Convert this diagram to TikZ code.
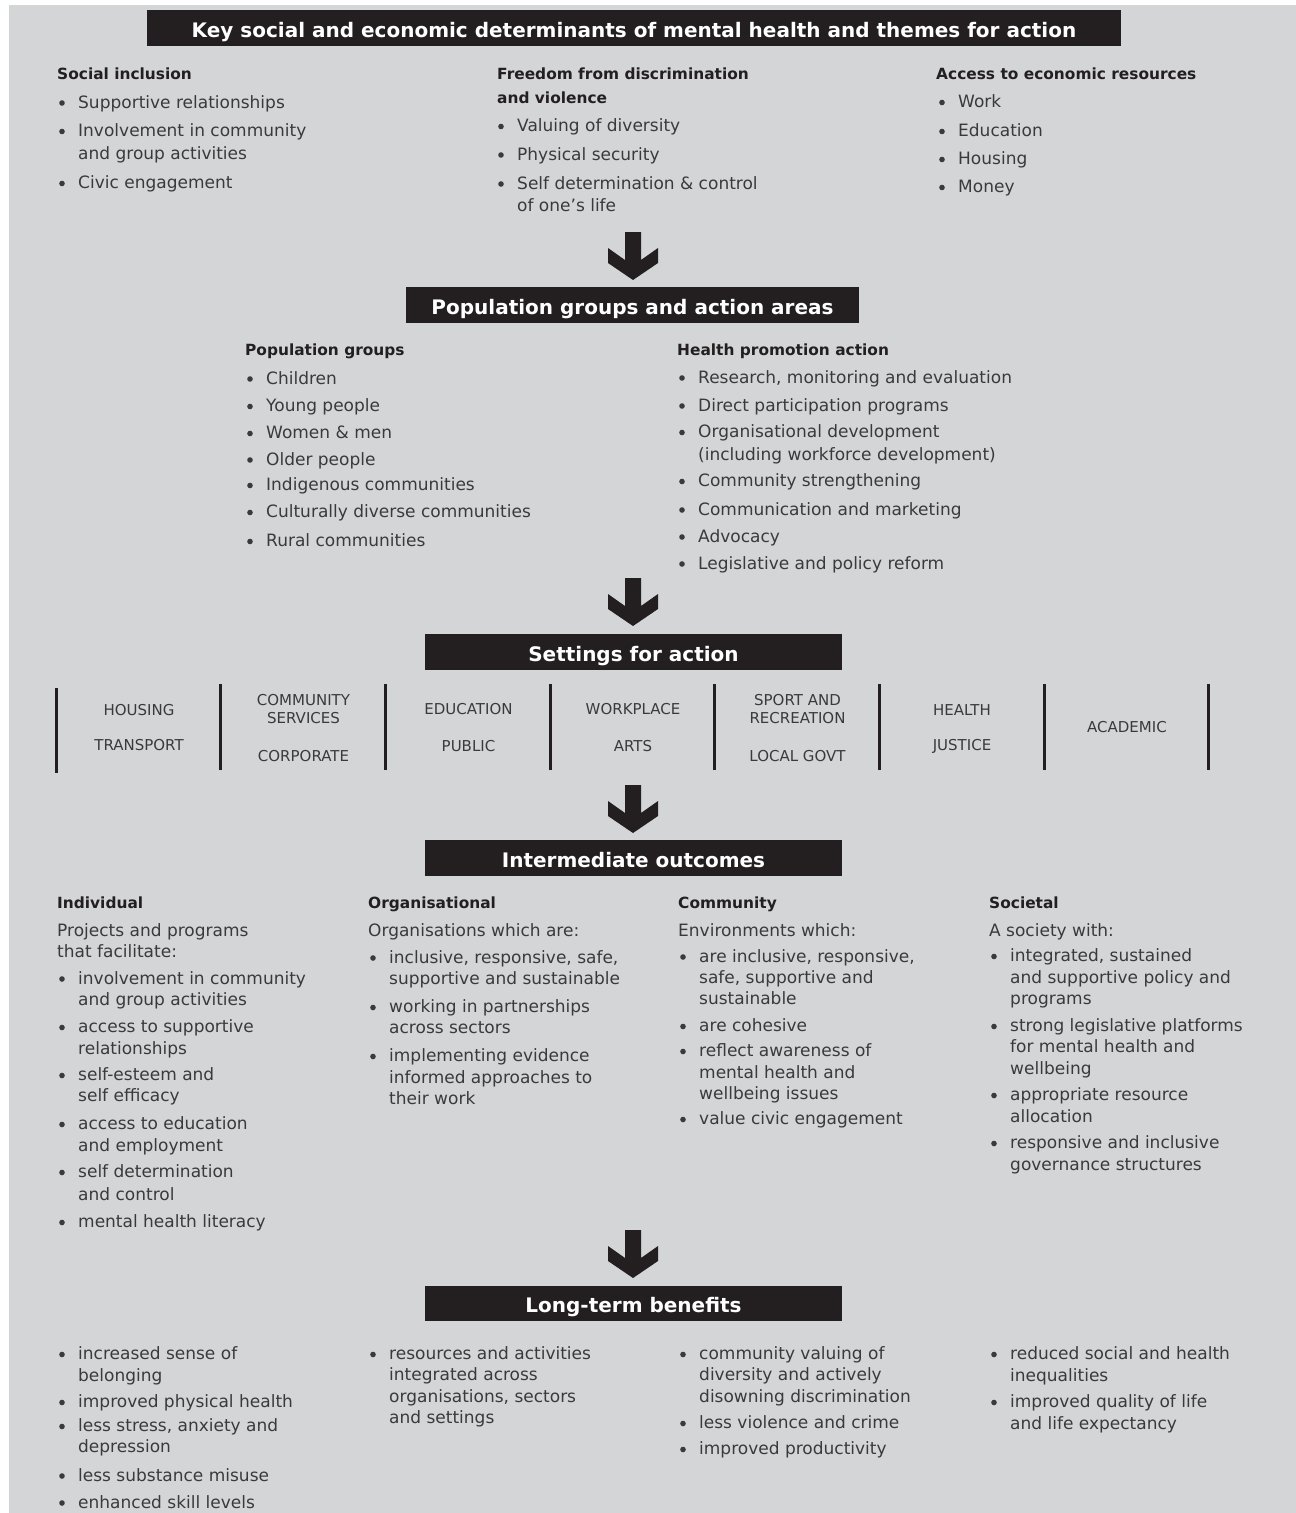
\documentclass[tikz,border=0pt]{standalone}
\usepackage{fontspec}
\setmainfont{DejaVu Sans}
\definecolor{bg}{HTML}{D4D5D7}
\definecolor{ink}{HTML}{231F20}
\definecolor{txt}{HTML}{3A3A3C}
\newcount\lc
\newcommand\Ln[3]{\global\advance\lc by 1\relax\node[bodytxt] (l\the\lc) at (#1,#2) {#3};}
\newcommand\Hd[3]{\global\advance\lc by 1\relax\node[headtxt] (l\the\lc) at (#1,#2) {#3};}
\newcommand\St[3]{\global\advance\lc by 1\relax\node[settxt] (l\the\lc) at (#1,#2) {#3};}
\newcommand\Bl[3]{\Ln{#1}{#2}{#3}\fill[txt] (#1-16,#2-5) circle[radius=2.8pt];}
\newcommand\DArrow[2]{\fill[ink] (#1-8,#2) -- (#1+8,#2) -- (#1+8,#2+28) -- (#1+25,#2+16) -- (#1+25,#2+31) -- (#1,#2+48) -- (#1-25,#2+31) -- (#1-25,#2+16) -- (#1-8,#2+28) -- cycle;}
\tikzset{
  bodytxt/.style={anchor=base west, inner sep=0pt, text=txt, font=\fontsize{17}{20}\selectfont},
  headtxt/.style={anchor=base west, inner sep=0pt, text=ink, font=\fontsize{15.4}{20}\selectfont\bfseries},
  settxt/.style={anchor=base, inner sep=0pt, text=txt, font=\fontsize{15}{18}\selectfont},
  titlebox/.style={fill=ink, text=white, font=\fontsize{20}{24}\selectfont\bfseries, inner sep=0pt, text height=21pt, text depth=3pt},
  bar/.style={draw=ink, line width=3pt}
}
\begin{document}
\begin{tikzpicture}[x=1pt,y=-1pt]
\useasboundingbox (0,0) rectangle (1296,1513);
\fill[white] (0,0) rectangle (1296,1513);
\fill[bg] (9,5) rectangle (1296,1513);

% title boxes
\node[titlebox, minimum width=974pt, minimum height=36pt] (h1) at (634,28) {Key social and economic determinants of mental health and themes for action};
\node[titlebox, minimum width=453pt, minimum height=36pt] (h2) at (632.5,305) {Population groups and action areas};
\node[titlebox, minimum width=417pt, minimum height=36pt] (h3) at (633.5,652) {Settings for action};
\node[titlebox, minimum width=417pt, minimum height=36pt] (h4) at (633.5,858) {Intermediate outcomes};
\node[titlebox, minimum width=417pt, minimum height=35pt] (h5) at (633.5,1303.5) {Long-term benefits};

% arrows
\DArrow{633}{232}
\DArrow{633}{578}
\DArrow{633}{785}
\DArrow{633}{1230}

% top section
\Hd{57}{79}{Social inclusion}
\Bl{78}{108}{Supportive relationships}
\Bl{78}{136.5}{Involvement in community}
\Ln{78}{159}{and group activities}
\Bl{78}{188.5}{Civic engagement}

\Hd{497}{79}{Freedom from discrimination}
\Hd{497}{103}{and violence}
\Bl{517}{131.5}{Valuing of diversity}
\Bl{517}{160}{Physical security}
\Bl{517}{189}{Self determination \& control}
\Ln{517}{211}{of one’s life}

\Hd{936}{79}{Access to economic resources}
\Bl{958}{107.5}{Work}
\Bl{958}{136.5}{Education}
\Bl{958}{164.5}{Housing}
\Bl{958}{192.5}{Money}

% population section
\Hd{245}{355.5}{Population groups}
\Bl{266}{384}{Children}
\Bl{266}{411.5}{Young people}
\Bl{266}{438.5}{Women \& men}
\Bl{266}{465}{Older people}
\Bl{266}{490.5}{Indigenous communities}
\Bl{266}{517.5}{Culturally diverse communities}
\Bl{266}{546.5}{Rural communities}

\Hd{677}{355.5}{Health promotion action}
\Bl{698}{383}{Research, monitoring and evaluation}
\Bl{698}{411}{Direct participation programs}
\Bl{698}{437.5}{Organisational development}
\Ln{698}{460}{(including workforce development)}
\Bl{698}{486.5}{Community strengthening}
\Bl{698}{515}{Communication and marketing}
\Bl{698}{542}{Advocacy}
\Bl{698}{569}{Legislative and policy reform}

% settings
\draw[bar] (56,688) -- (56,773);
\draw[bar] (220,684) -- (220,770);
\draw[bar] (385,684) -- (385,770);
\draw[bar] (550,684) -- (550,770);
\draw[bar] (714,684) -- (714,770);
\draw[bar] (879,684) -- (879,770);
\draw[bar] (1044,684) -- (1044,770);
\draw[bar] (1208,684) -- (1208,770);
\St{139}{715}{HOUSING}
\St{139}{750}{TRANSPORT}
\St{303.5}{705}{COMMUNITY}
\St{303.5}{723}{SERVICES}
\St{303.5}{761}{CORPORATE}
\St{468.5}{714}{EDUCATION}
\St{468.5}{751.5}{PUBLIC}
\St{633}{714}{WORKPLACE}
\St{633}{751.5}{ARTS}
\St{797.5}{705}{SPORT AND}
\St{797.5}{723}{RECREATION}
\St{797.5}{761}{LOCAL GOVT}
\St{962}{715.5}{HEALTH}
\St{962}{750}{JUSTICE}
\St{1127}{732.5}{ACADEMIC}

% intermediate outcomes
\Hd{57}{908}{Individual}
\Ln{57}{936.5}{Projects and programs}
\Ln{57}{957.5}{that facilitate:}
\Bl{78}{984}{involvement in community}
\Ln{78}{1005}{and group activities}
\Bl{78}{1032.5}{access to supportive}
\Ln{78}{1054}{relationships}
\Bl{78}{1080.5}{self-esteem and}
\Ln{78}{1101.5}{self efficacy}
\Bl{78}{1129.5}{access to education}
\Ln{78}{1151}{and employment}
\Bl{78}{1177.5}{self determination}
\Ln{78}{1200}{and control}
\Bl{78}{1227.5}{mental health literacy}

\Hd{368}{908}{Organisational}
\Ln{368}{936}{Organisations which are:}
\Bl{389}{963}{inclusive, responsive, safe,}
\Ln{389}{984.5}{supportive and sustainable}
\Bl{389}{1012.5}{working in partnerships}
\Ln{389}{1033.5}{across sectors}
\Bl{389}{1061.5}{implementing evidence}
\Ln{389}{1083}{informed approaches to}
\Ln{389}{1104}{their work}

\Hd{678}{908}{Community}
\Ln{678}{936}{Environments which:}
\Bl{699}{962}{are inclusive, responsive,}
\Ln{699}{983.5}{safe, supportive and}
\Ln{699}{1004.5}{sustainable}
\Bl{699}{1031.5}{are cohesive}
\Bl{699}{1056.5}{reflect awareness of}
\Ln{699}{1078.5}{mental health and}
\Ln{699}{1099.5}{wellbeing issues}
\Bl{699}{1124.5}{value civic engagement}

\Hd{989}{908}{Societal}
\Ln{989}{936}{A society with:}
\Bl{1010}{961.5}{integrated, sustained}
\Ln{1010}{983.5}{and supportive policy and}
\Ln{1010}{1004.5}{programs}
\Bl{1010}{1031.5}{strong legislative platforms}
\Ln{1010}{1052.5}{for mental health and}
\Ln{1010}{1074.5}{wellbeing}
\Bl{1010}{1100.5}{appropriate resource}
\Ln{1010}{1122.5}{allocation}
\Bl{1010}{1148.5}{responsive and inclusive}
\Ln{1010}{1170.5}{governance structures}

% long-term benefits
\Bl{78}{1359.5}{increased sense of}
\Ln{78}{1381}{belonging}
\Bl{78}{1407.5}{improved physical health}
\Bl{78}{1431.5}{less stress, anxiety and}
\Ln{78}{1452}{depression}
\Bl{78}{1481}{less substance misuse}
\Bl{78}{1508}{enhanced skill levels}

\Bl{389}{1359.5}{resources and activities}
\Ln{389}{1380.5}{integrated across}
\Ln{389}{1402.5}{organisations, sectors}
\Ln{389}{1423.5}{and settings}

\Bl{699}{1359.5}{community valuing of}
\Ln{699}{1380.5}{diversity and actively}
\Ln{699}{1402.5}{disowning discrimination}
\Bl{699}{1428.5}{less violence and crime}
\Bl{699}{1454.5}{improved productivity}

\Bl{1010}{1359.5}{reduced social and health}
\Ln{1010}{1381}{inequalities}
\Bl{1010}{1407.5}{improved quality of life}
\Ln{1010}{1429.5}{and life expectancy}
\end{tikzpicture}
\end{document}
